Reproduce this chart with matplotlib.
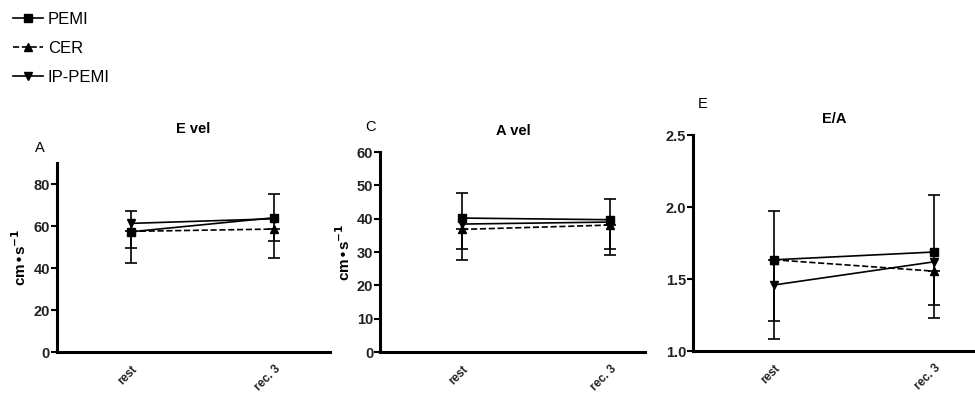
import matplotlib

matplotlib.use("Agg")
import matplotlib.pyplot as plt
from matplotlib.lines import Line2D

plt.rcParams["font.family"] = ["Liberation Sans", "DejaVu Sans"]

timepoints = ["rest", "rec. 3"]
series = ["PEMI", "CER", "IP-PEMI"]

# E vel (cm/s)
evel_pemi = [57.3, 64.0]
evel_cer = [57.5, 58.6]
evel_ip = [61.3, 63.5]
evel_pemi_lo = [7.9, 11.2]
evel_pemi_hi = [9.7, 11.3]
evel_cer_lo = [15.2, 13.6]
evel_cer_hi = [0.0, 0.0]

# A vel (cm/s)
avel_pemi = [40.2, 39.7]
avel_cer = [36.8, 38.1]
avel_ip = [38.4, 39.0]
avel_pemi_lo = [9.4, 8.8]
avel_pemi_hi = [7.5, 6.1]
avel_cer_lo = [9.3, 9.1]
avel_cer_hi = [0.0, 0.0]

# E/A ratio
ea_pemi = [1.634, 1.688]
ea_cer = [1.634, 1.555]
ea_ip = [1.459, 1.620]
ea_pemi_lo = [0.427, 0.369]
ea_pemi_hi = [0.340, 0.396]
ea_cer_lo = [0.550, 0.329]
ea_cer_hi = [0.0, 0.0]

fig = plt.figure(figsize=(9.75, 3.96), dpi=100)


def panel(rect, xlim, ylim, yticks, ytick_fmt, pemi, cer, ip, p_lo, p_hi, c_lo, c_hi,
          title, letter, letter_xy, title_y, ylabel=None):
    ax = fig.add_axes(rect)
    x = list(range(len(timepoints)))
    ax.errorbar(x, pemi, yerr=[p_lo, p_hi], color="black", lw=1.2, marker="s",
                ms=6, capsize=4.5, elinewidth=1.2, capthick=1.2, zorder=3)
    ax.errorbar(x, cer, yerr=[c_lo, c_hi], color="black", lw=1.2, ls="--",
                marker="^", ms=6, capsize=4.5, elinewidth=1.2, capthick=1.2, zorder=3)
    ax.plot(x, ip, color="black", lw=1.2, marker="v", ms=6, zorder=3)
    ax.set_xlim(*xlim)
    ax.set_ylim(*ylim)
    ax.set_yticks(yticks)
    ax.set_yticklabels([ytick_fmt.format(t) for t in yticks], fontsize=10.5,
                       fontweight="bold", color="#222222")
    ax.set_xticks(x)
    ax.set_xticklabels(timepoints, rotation=45, ha="right", rotation_mode="anchor",
                       fontsize=8.5, fontweight="bold", color="#222222")
    ax.tick_params(axis="x", length=0, pad=8)
    ax.tick_params(axis="y", length=4, width=1.5, pad=1)
    for s in ["top", "right"]:
        ax.spines[s].set_visible(False)
    for s in ["left", "bottom"]:
        ax.spines[s].set_linewidth(2.2)
    ax.set_title(title, fontsize=10.5, fontweight="bold", y=title_y)
    fig.text(letter_xy[0], letter_xy[1], letter, fontsize=10.5, ha="left", va="center")
    if ylabel:
        ax.set_ylabel(ylabel, fontsize=11, fontweight="bold", labelpad=3)
    return ax


ylab = "cm\u2022s$^{\\mathbf{-1}}$"
panel([0.0585, 0.111, 0.280, 0.477], (-0.517, 1.391), (0, 90), [0, 20, 40, 60, 80],
      "{:g}", evel_pemi, evel_cer, evel_ip, evel_pemi_lo, evel_pemi_hi,
      evel_cer_lo, evel_cer_hi, "E vel", "A", (0.036, 0.627), 1.118, ylabel=ylab)
panel([0.390, 0.111, 0.272, 0.505], (-0.553, 1.236), (0, 60),
      [0, 10, 20, 30, 40, 50, 60], "{:g}", avel_pemi, avel_cer, avel_ip,
      avel_pemi_lo, avel_pemi_hi, avel_cer_lo, avel_cer_hi, "A vel", "C",
      (0.375, 0.68), 1.045, ylabel=ylab)
panel([0.711, 0.1136, 0.289, 0.545], (-0.505, 1.256), (1.0, 2.5),
      [1.0, 1.5, 2.0, 2.5], "{:.1f}", ea_pemi, ea_cer, ea_ip, ea_pemi_lo,
      ea_pemi_hi, ea_cer_lo, ea_cer_hi, "E/A", "E", (0.716, 0.737), 1.02)

handles = [
    Line2D([], [], color="black", lw=1.2, marker="s", ms=6),
    Line2D([], [], color="black", lw=1.2, ls="--", marker="^", ms=6),
    Line2D([], [], color="black", lw=1.2, marker="v", ms=6),
]
fig.legend(handles, series, loc="upper left", bbox_to_anchor=(0.003, 0.995),
           frameon=False, fontsize=12, handlelength=1.8, handletextpad=0.3,
           labelspacing=0.85, borderaxespad=0.2)

fig.savefig("out.png", dpi=100)
